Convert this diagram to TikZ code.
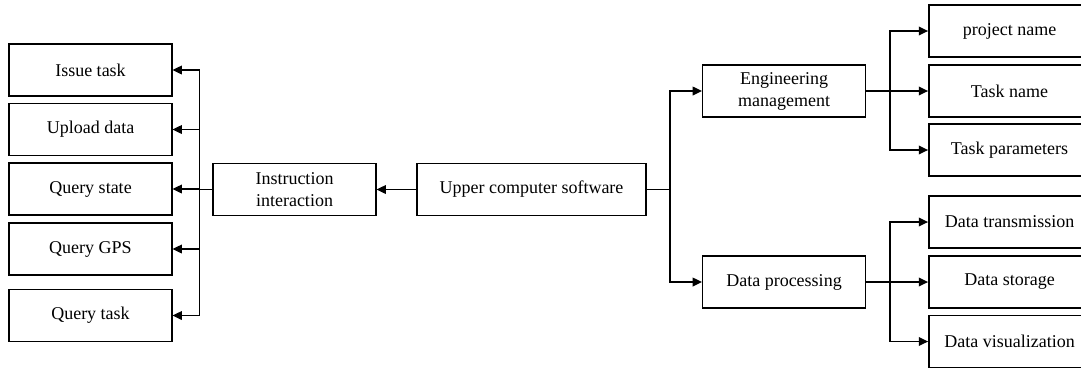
\documentclass[tikz,border=0pt]{standalone}
\usepackage{fontspec}
\setmainfont{Liberation Serif}
\newfontfamily\tnr{Liberation Serif}
\usetikzlibrary{arrows.meta}
\begin{document}
\begin{tikzpicture}[x=0.75pt,y=-0.75pt,
  box/.style={draw,line width=1.1pt,inner sep=0pt,minimum height=39pt,align=center,font=\tnr\fontsize{13.5}{16.5}\selectfont},
  lbox/.style={box,minimum width=122pt},
  mbox/.style={box,minimum width=122pt},
  wbox/.style={box,minimum width=172pt},
  rbox/.style={box,minimum width=121pt},
  arr/.style={line width=1.2pt,-{Triangle[length=7pt,width=6.5pt]}}]
\useasboundingbox (0,0) rectangle (1081,368);
\clip (0,0) rectangle (1081,368);
% left
\node[lbox] (issue) at (90.5,70) {Issue task};
\node[lbox] (upload) at (90.5,129.5) {Upload data};
\node[lbox] (qstate) at (90.5,189) {Query state};
\node[lbox] (qgps) at (90.5,249) {Query GPS};
\node[lbox] (qtask) at (90.5,315.5) {Query task};
% middle
\node[mbox] (instr) at (294.5,189.5) {Instruction\\interaction};
\node[wbox] (upper) at (531.5,189.5) {Upper computer software};
\node[mbox] (eng) at (784,91) {Engineering\\management};
\node[mbox] (dp) at (784,282) {Data processing};
% right
\node[rbox] (pname) at (1009.5,31) {project name};
\node[rbox] (tname) at (1009.5,91) {Task name};
\node[rbox] (tparam) at (1009.5,150) {Task parameters};
\node[rbox] (dtrans) at (1009.5,222) {Data transmission};
\node[rbox] (dstore) at (1009.5,282) {Data storage};
\node[rbox] (dvis) at (1009.5,341.5) {Data visualization};
% connectors
\draw[arr] (upper.west) -- (instr.west -| instr.east);
\foreach \b in {issue,upload,qstate,qgps,qtask}
  \draw[arr] (instr.west) -- ++(-13,0) |- (\b.east);
\draw[arr] (upper.east) -- ++(23,0) |- (eng.west);
\draw[arr] (upper.east) -- ++(23,0) |- (dp.west);
\foreach \b in {pname,tname,tparam}
  \draw[arr] (eng.east) -- ++(24,0) |- (\b.west);
\foreach \b in {dtrans,dstore,dvis}
  \draw[arr] (dp.east) -- ++(24,0) |- (\b.west);
\end{tikzpicture}
\end{document}
